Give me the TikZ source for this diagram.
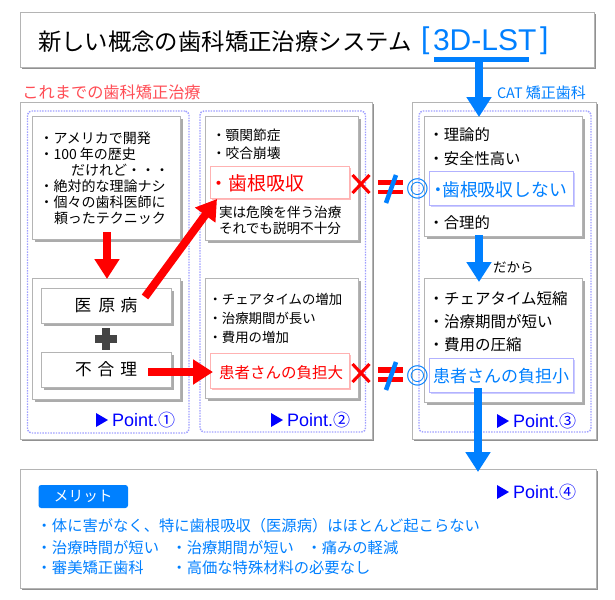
\documentclass[tikz,border=0pt]{standalone}
\usepackage{fontspec}
\setmainfont{Noto Sans CJK JP}
\newfontfamily\latinf{Liberation Sans}
\usetikzlibrary{shadows,arrows.meta}
\definecolor{cblue}{HTML}{0080FF}
\definecolor{cred}{HTML}{FF0000}
\definecolor{cpink}{HTML}{FF4D55}
\definecolor{cpt}{HTML}{0000FF}
\definecolor{cgrey}{HTML}{B4B4B4}
\definecolor{cshadow}{HTML}{ABABAB}
\definecolor{cdot}{HTML}{A0A0FF}
\definecolor{cplus}{HTML}{444444}
\newcommand\sz[1]{\fontsize{#1pt}{#1pt}\selectfont}
\newcounter{tcount}
\newcommand\bx[7]{\node[#2,minimum width={(#5-#3)*0.75pt},minimum height={(#6-#4)*0.75pt}] (#1) at ({(#3+#5)/2},{(#4+#6)/2}) {#7};}
\newcommand\tx[5]{\stepcounter{tcount}\node[txt,text=#4,font=\sz{#3}] (t\arabic{tcount}) at (#1,#2) {#5};}
\newcommand\ptmark[3]{\stepcounter{tcount}\fill[cpt] (#1,#2-7) -- (#1+12,#2) -- (#1,#2+7) -- cycle;
  \node[txt,text=cpt] (t\arabic{tcount}) at (#1+16,#2) {{\latinf\sz{13.5}Point.}{\sz{12.75}#3}};}
\tikzset{
  basebox/.style={inner sep=0pt,outer sep=0pt,line width=0.75pt},
  txt/.style={anchor=west,inner sep=0pt,outer sep=0pt,yshift=-0.4pt},
  titlebox/.style={basebox,draw=cgrey,fill=white,general shadow={shadow xshift=1.2pt,shadow yshift=-1.2pt,fill=cshadow!85!black}},
  panel/.style={basebox,draw=cgrey,fill=white,general shadow={shadow xshift=1.2pt,shadow yshift=-1.2pt,fill=cshadow!85!black}},
  dotbox/.style={basebox,draw=cdot,line width=1.1pt,dash pattern=on 1.1pt off 0.9pt,rounded corners=3pt},
  card/.style={basebox,draw=cgrey,fill=white,general shadow={shadow xshift=2.25pt,shadow yshift=-2.25pt,fill=cshadow}},
  redcard/.style={basebox,draw=red!30,fill=white,general shadow={shadow xshift=1.6pt,shadow yshift=-1.6pt,fill=red!27}},
  bluecard/.style={basebox,draw=blue!30,fill=white,general shadow={shadow xshift=1.8pt,shadow yshift=-1.8pt,fill=blue!20}},
  badge/.style={basebox,fill=cblue,text=white,rounded corners=2pt,font=\sz{11}},
  bigtext/.style={font=\sz{12.5}},
  redarrow/.style={draw=cred,line width=6pt,-{Triangle[length=15pt,width=18pt,fill=cred]}},
  bluearrow/.style={draw=cblue,line width=6pt,-{Triangle[length=15pt,width=18pt,fill=cblue]}},
  crossmark/.style={draw=cred,line width=2.3pt},
  slash/.style={draw=cblue,line width=3.4pt},
}
\begin{document}
\begin{tikzpicture}[x=0.75pt,y=-0.75pt]
\useasboundingbox (0,0) rectangle (615,600);
\fill[white] (0,0) rectangle (615,600);
% outer boxes
\bx{title}{titlebox}{20}{12}{594}{67}{}
\bx{left}{panel}{20}{102}{372}{439}{}
\bx{right}{panel}{412}{102}{596}{439}{}
\bx{bottom}{panel}{20}{469}{596}{588}{}
\bx{d1}{dotbox}{27.5}{111}{189}{433}{}
\bx{d2}{dotbox}{200}{111}{365.5}{432}{}
\bx{d3}{dotbox}{419}{111}{591}{432}{}
\bx{A}{card}{32}{116}{180}{239}{}
\bx{B}{card}{32}{278}{180}{399}{}
\bx{C}{card}{205}{116}{358}{240}{}
\bx{D}{card}{205}{278}{358}{398}{}
\bx{E}{card}{424}{116}{582}{236}{}
\bx{F}{card}{424}{278}{582}{402}{}
\bx{iatro}{card,bigtext}{41}{288}{171}{323}{\raisebox{-1pt}{医\kern5.5pt 原\kern4pt 病}}
\bx{irr}{card,bigtext}{41}{352}{171}{387}{\raisebox{-1pt}{不\kern4.5pt 合\kern4.5pt 理}}
\bx{r1}{redcard}{210}{166}{349}{198}{}
\bx{r2}{redcard}{210}{353}{349}{388}{}
\bx{b1}{bluecard}{429}{171}{573}{205}{}
\bx{b2}{bluecard}{429}{358}{573}{392}{}
\bx{merit}{badge}{38.5}{485}{128}{508}{メリット}
% plus
\fill[cplus] (95,335) rectangle (117,343);
\fill[cplus] (102,328) rectangle (110,350);
% title
\tx{38}{41}{17.55}{black}{新しい概念の歯科矯正治療システム}
\tx{421}{40}{22.5}{cblue}{\latinf [}
\tx{433}{40}{22.5}{cblue}{\latinf 3D-LST}
\tx{540}{40}{22.5}{cblue}{\latinf ]}
\fill[cblue] (434,56.5) rectangle (529,61.5);
% headings
\tx{22.5}{92}{12.15}{cpink}{これまでの歯科矯正治療}
\tx{497}{92}{10.8}{cblue}{CAT \sz{11.25}矯正歯科}
\tx{493}{267}{10.125}{black}{だから}
% box A
\tx{39.5}{138}{10.5}{black}{・アメリカで開発}
\tx{39.5}{154}{10.5}{black}{・100 年の歴史}
\tx{71}{170}{10.5}{black}{だけれど・・・}
\tx{39.5}{186}{10.5}{black}{・絶対的な理論ナシ}
\tx{39.5}{202}{10.5}{black}{・個々の歯科医師に}
\tx{54}{218}{10.5}{black}{頼ったテクニック}
% box C
\tx{212}{135}{10.3}{black}{・顎関節症}
\tx{212}{153}{10.3}{black}{・咬合崩壊}
\tx{209}{183}{14.25}{cred}{・歯根吸収}
\tx{219}{212}{10.2}{black}{実は危険を伴う治療}
\tx{219}{228}{10.2}{black}{それでも説明不十分}
% box D
\tx{208.5}{299}{10.05}{black}{・チェアタイムの増加}
\tx{208.5}{318}{10.05}{black}{・治療期間が長い}
\tx{208.5}{337}{10.05}{black}{・費用の増加}
\tx{219}{372}{11.625}{cred}{患者さんの負担大}
% box E
\tx{428.5}{134}{11.5}{black}{・理論的}
\tx{428.5}{158}{11.5}{black}{・安全性高い}
\tx{429.5}{189}{13.35}{cblue}{・\kern-3.8pt 歯根吸収しない}
\tx{428.5}{222}{11.5}{black}{・合理的}
% box F
\tx{428.5}{298}{11.625}{black}{・チェアタイム短縮}
\tx{428.5}{321}{11.625}{black}{・治療期間が短い}
\tx{428.5}{344}{11.625}{black}{・費用の圧縮}
\tx{433}{376}{12.75}{cblue}{患者さんの負担小}
% bottom text
\tx{36.7}{525}{11.475}{cblue}{・体に害がなく、特に歯根吸収（医源病）はほとんど起こらない}
\tx{36.7}{547}{11.475}{cblue}{・治療時間が短い}
\tx{171.5}{547}{11.475}{cblue}{・治療期間が短い}
\tx{306.5}{547}{11.475}{cblue}{・痛みの軽減}
\tx{36.7}{567}{11.475}{cblue}{・審美矯正歯科}
\tx{171.5}{567}{11.475}{cblue}{・高価な特殊材料の必要なし}
% point marks
\ptmark{96}{420}{①}
\ptmark{271}{420}{②}
\ptmark{497}{421}{③}
\ptmark{497}{492}{④}
% x, not equal
\foreach \yy/\ya/\yb/\yc/\yd/\ys/\yt in {184/180/185/189.5/194/175/203,373/367/373/377/382/362/390}{
  \draw[crossmark] (352.5,\yy-9) -- (369.5,\yy+9);
  \draw[crossmark] (369.5,\yy-9) -- (352.5,\yy+9);
  \fill[cred] (378,\ya) rectangle (403,\yb);
  \fill[cred] (378,\yc) rectangle (403,\yd);
  \draw[slash] (396,\ys) -- (386,\yt);
}
\tx{406}{188}{17}{cblue}{\bfseries ◎}
\tx{406}{375}{17}{cblue}{\bfseries ◎}
% arrows
\draw[redarrow] ([shift={(1,-7)}]A.south) -- ([shift={(1,1)}]B.north);
\draw[redarrow] ([shift={(39,9)}]iatro.north) -- ([shift={(-62.5,1)}]r1.south);
\draw[redarrow] ([shift={(-23,2.5)}]irr.east) -- ([shift={(3,1.5)}]r2.west);
\draw[bluearrow] ([shift={(172,-10)}]title.south) -- ([shift={(-24,1)}]E.north);
\draw[bluearrow] ([shift={(-24,-1)}]E.south) -- ([shift={(-24,4)}]F.north);
\draw[bluearrow] ([shift={(-23,-4)}]b2.south) -- ([shift={(170,3)}]bottom.north);
\end{tikzpicture}
\end{document}
